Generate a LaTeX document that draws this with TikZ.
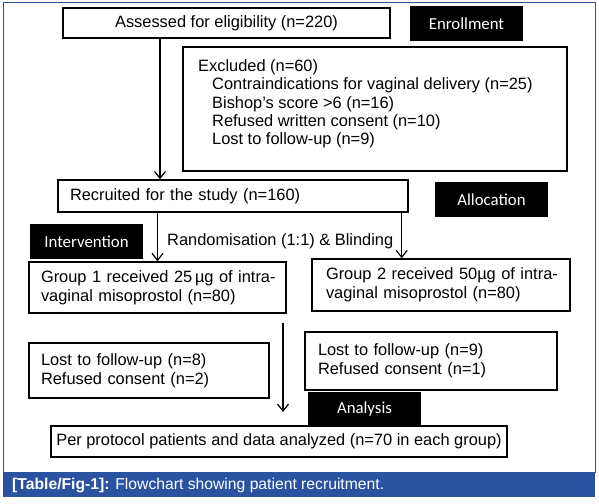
\documentclass[tikz,border=0pt]{standalone}
\usepackage{fontspec}
\usepackage{xcolor}
\usetikzlibrary{arrows.meta}
\setmainfont{Liberation Sans}
\newfontfamily\labelfont{Carlito}
\definecolor{capblue}{RGB}{42,82,160}

\begin{document}
\begin{tikzpicture}[x=1pt, y=-1pt,
    box/.style={draw, line width=1.4pt, inner xsep=12pt, inner ysep=0pt,
                font=\fontsize{16.4}{18.6}\selectfont},
    tag/.style={fill=black, text=white, minimum width=113pt, minimum height=35pt,
                font=\labelfont\fontsize{16.8}{18}\selectfont},
    flow/.style={line width=1.2pt, -{Straight Barb[length=7pt, width=11pt]}}]
    \useasboundingbox (0,0) rectangle (599,503);

    % Frame and caption
    \draw[capblue, line width=1pt] (3,3) rectangle (595,472);
    \fill[capblue] (3,472) rectangle (595,497);
    \node[anchor=base west, text=white, inner sep=0pt,
          font=\fontsize{15.7}{18}\selectfont] (caption) at (12,489)
        {\textbf{[Table/Fig-1]:} Flowchart showing patient recruitment.};

    % Stage labels
    \node[tag] (enrol) at (466.5,24) {Enrollment};
    \node[tag] (alloc) at (491.5,199.5) {Allocation};
    \node[tag] (interv) at (86.5,241.5) {Intervention};
    \node[tag] (analys) at (364.5,409.5) {Analysis};

    % Enrollment
    \node[box, minimum width=327pt, minimum height=30pt] (assess) at (226.5,23)
        {Assessed for eligibility (n=220)};
    \node[box, minimum width=384pt, minimum height=124pt] (excl) at (375,109) {};
    \node[anchor=north west, align=left, inner sep=0pt,
          font=\fontsize{16.4}{18.3}\selectfont] (excltext) at (198,59.5)
        {Excluded (n=60)\\
         \hspace*{14pt}Contraindications for vaginal delivery (n=25)\\
         \hspace*{14pt}Bishop’s score >6 (n=16)\\
         \hspace*{14pt}Refused written consent (n=10)\\
         \hspace*{14pt}Lost to follow-up (n=9)};

    % Allocation
    \node[box, minimum width=350pt, minimum height=32pt, text width=326pt,
          align=left] (recruit) at (233,196) {Recruited for the study (n=160)};
    \node[anchor=base west, inner sep=0pt, font=\fontsize{16.4}{18}\selectfont]
        (random) at (167,245) {Randomisation (1:1) \& Blinding};

    % Groups
    \node[box, minimum width=257pt, minimum height=51pt, text width=233pt,
          inner xsep=12pt, align=left] (group1) at (157.5,287.5)
        {\mbox{Group 1 received 25\,µg of intra-}\\vaginal misoprostol (n=80)};
    \node[box, minimum width=258pt, minimum height=52pt, text width=230pt,
          inner xsep=14pt, align=left] (group2) at (441,285)
        {\mbox{Group 2 received 50µg of intra-}\\vaginal misoprostol (n=80)};

    % Losses
    \node[box, minimum width=240pt, minimum height=55pt, text width=216pt,
          align=left] (lost1) at (149,370.5)
        {Lost to follow-up (n=8)\\Refused consent (n=2)};
    \node[box, minimum width=252pt, minimum height=58pt, text width=226pt,
          inner xsep=13pt, align=left] (lost2) at (431,361)
        {Lost to follow-up (n=9)\\Refused consent (n=1)};

    % Analysis
    \node[box, minimum width=456pt, minimum height=31pt, inner xsep=3pt]
        (perproto) at (279,441.5)
        {Per protocol patients and data analyzed (n=70 in each group)};

    % Arrows
    \draw[flow] ([xshift=-66.5pt]assess.south)
        -- ([xshift=-66.5pt]assess.south |- recruit.north);
    \draw[flow] (group1.north |- recruit.south) -- (group1.north);
    \draw[flow] ([xshift=-7pt]recruit.south east)
        -- ([xshift=-7pt]recruit.south east |- group2.north);
    \coordinate (downtop) at (283,323);
    \coordinate (downend) at (283,412);
    \draw[flow] (downtop) -- (downend);
\end{tikzpicture}
\end{document}
